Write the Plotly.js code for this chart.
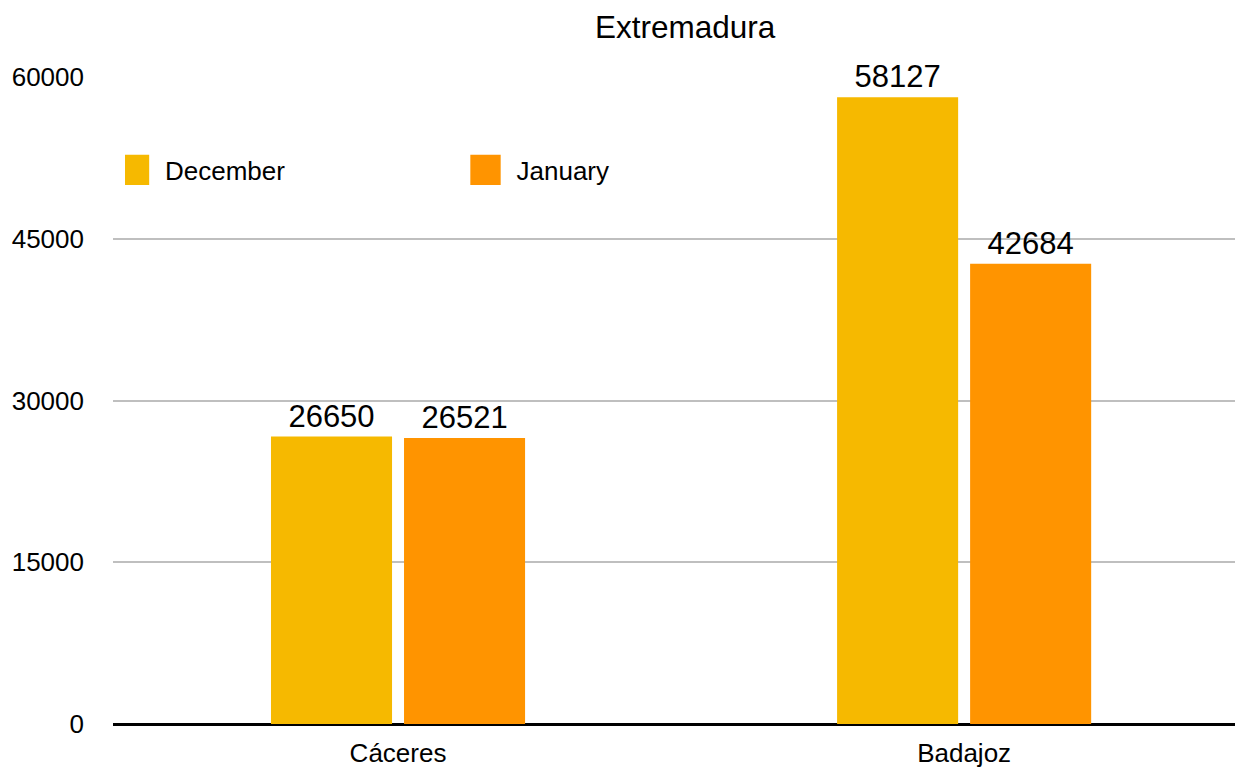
<!DOCTYPE html>
<html>
<head>
<meta charset="utf-8">
<script src="https://cdn.plot.ly/plotly-3.0.1.min.js"></script>
<style>html,body{margin:0;padding:0;background:#fff;}#chart{width:1235px;height:767px;}</style>
</head>
<body>
<div id="chart"></div>
<script>
const categories = ["Cáceres", "Badajoz"];
const seriesNames = ["December", "January"];
const december = [26650, 58127];
const january = [26521, 42684];
const yTicks = [0, 15000, 30000, 45000, 60000];
const colors = ["#F6B900", "#FF9400"];

const FONT = '"Liberation Sans", Arial, Helvetica, sans-serif';

const traces = [december, january].map((vals, i) => ({
  type: 'bar',
  name: seriesNames[i],
  x: categories,
  y: vals,
  marker: { color: colors[i], line: { width: 0 } },
  text: vals.map(v => String(v)),
  textposition: 'outside',
  textfont: { family: FONT, size: 31, color: '#000' },
  cliponaxis: false,
  hoverinfo: 'x+y+name'
}));

const layout = {
  width: 1235,
  height: 767,
  paper_bgcolor: '#ffffff',
  plot_bgcolor: '#ffffff',
  font: { family: FONT, size: 26, color: '#000' },
  margin: { l: 113, r: 0, t: 76.5, b: 43, pad: 0 },
  title: {
    text: 'Extremadura',
    font: { family: FONT, size: 31.5, color: '#000' },
    x: 0.51, xref: 'paper', xanchor: 'center',
    y: 0.965, yref: 'container', yanchor: 'middle'
  },
  barmode: 'group',
  bargap: 0.53,
  bargroupgap: 0.09,
  showlegend: true,
  legend: {
    orientation: 'h',
    x: 0.0107, xanchor: 'left',
    y: 0.8563, yanchor: 'middle',
    font: { family: FONT, size: 26, color: '#000' },
    entrywidthmode: 'pixels',
    entrywidth: 306.5,
    bgcolor: 'rgba(0,0,0,0)',
    borderwidth: 0,
    itemclick: false, itemdoubleclick: false
  },
  xaxis: {
    type: 'category',
    range: [-0.5035, 1.4785],
    showgrid: false,
    showline: false,
    zeroline: false,
    ticks: '',
    tickfont: { family: FONT, size: 26, color: '#000' },
    ticklabelstandoff: 11,
    fixedrange: true
  },
  yaxis: {
    range: [0, 60000],
    tickvals: yTicks,
    ticktext: yTicks.map(v => String(v)),
    showgrid: true,
    gridcolor: '#BFBFBF',
    gridwidth: 2,
    zeroline: true,
    zerolinecolor: '#000000',
    zerolinewidth: 2.5,
    showline: false,
    ticks: '',
    tickfont: { family: FONT, size: 26, color: '#000' },
    ticklabelstandoff: 28,
    fixedrange: true
  }
};

Plotly.newPlot('chart', traces, layout, { displayModeBar: false, staticPlot: false }).then(gd => {
  gd.querySelectorAll('.legend .legendpoints path').forEach(p => {
    p.setAttribute('transform', 'translate(9,0) scale(2.53)');
  });
});
</script>
</body>
</html>
